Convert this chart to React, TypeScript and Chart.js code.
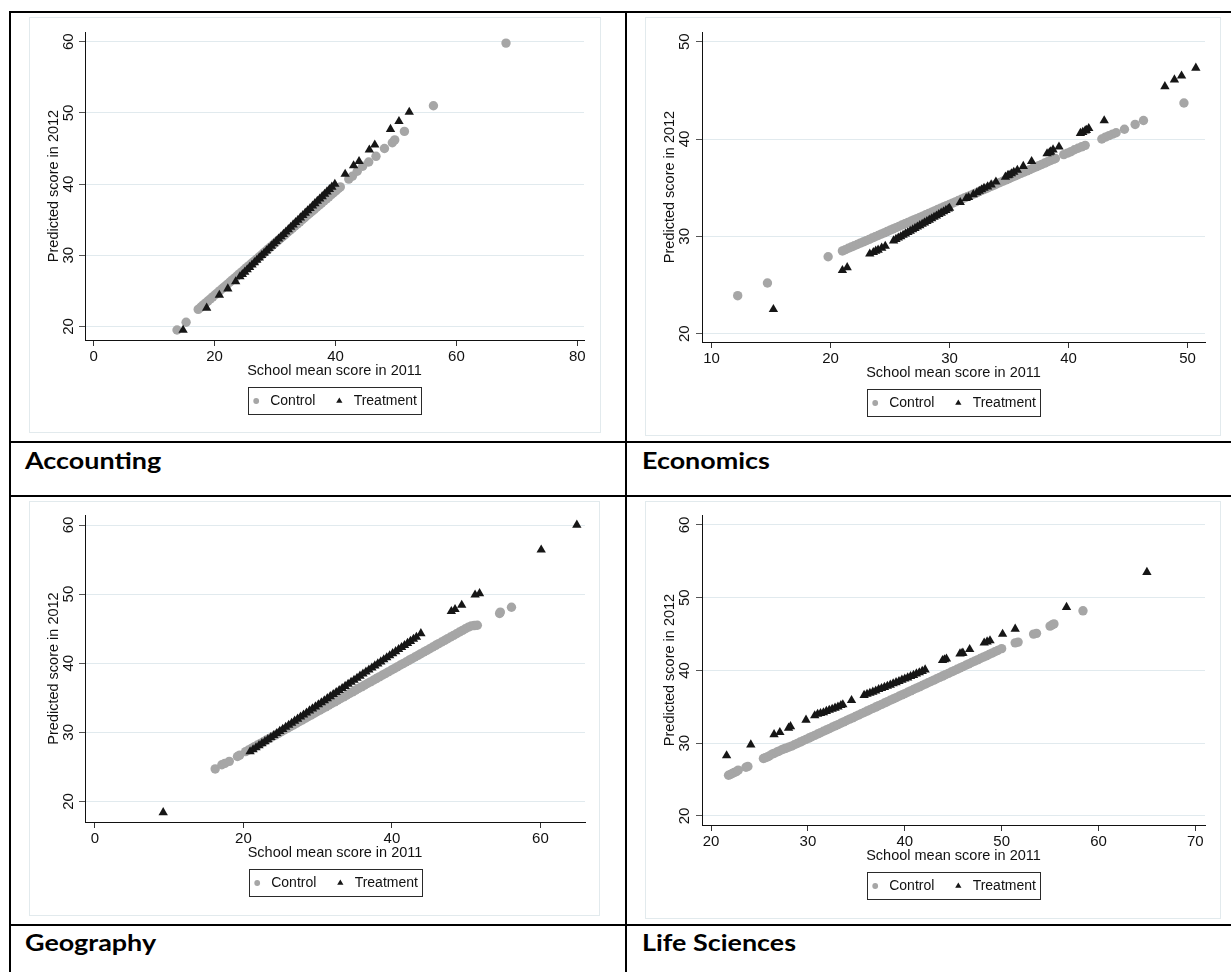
import React, { useEffect, useRef } from "react";
import { Chart, registerables } from "chart.js";

Chart.register(...registerables);

const FONT = '"Liberation Sans", Arial, Helvetica, sans-serif';
const LABEL_FONT = 'Lato, "Noto Sans", sans-serif';
const GRAY = "#a6a6a6";
const BLACK = "#161616";
const GRID = "#e1eaee";
const FRAME = "#e2eaed";

// ---------- shared texts ----------
const seriesNames = ["Control", "Treatment"];
const panelTitles = ["Accounting", "Economics", "Geography", "Life Sciences"];
const xAxisTitle = "School mean score in 2011";
const yAxisTitle = "Predicted score in 2012";

// ---------- Accounting ----------
const accountingXTicks = [0, 20, 40, 60, 80];
const accountingYTicks = [20, 30, 40, 50, 60];
const accountingControl: [number, number][] = [
  [13.8, 19.5], [15.3, 20.6],
  [17.3, 22.4], [17.7, 22.69], [18.1, 22.99], [18.5, 23.28], [18.9, 23.57], [19.3, 23.86], [19.7, 24.16],
  [20.1, 24.45], [20.5, 24.74], [20.9, 25.04], [21.3, 25.33], [21.7, 25.62], [22.1, 25.91], [22.5, 26.21],
  [22.9, 26.5], [23.3, 26.79], [23.7, 27.08], [24.1, 27.38], [24.5, 27.67], [24.9, 27.96], [25.3, 28.26],
  [25.7, 28.55], [26.1, 28.84], [26.5, 29.13], [26.9, 29.43], [27.3, 29.72], [27.7, 30.01], [28.1, 30.31],
  [28.5, 30.6], [28.9, 30.89], [29.3, 31.18], [29.7, 31.48], [30.1, 31.77], [30.5, 32.06], [30.9, 32.36],
  [31.3, 32.65], [31.7, 32.94], [32.1, 33.23], [32.5, 33.53], [32.9, 33.82], [33.3, 34.11], [33.7, 34.4],
  [34.1, 34.7], [34.5, 34.99], [34.9, 35.28], [35.3, 35.58], [35.7, 35.87], [36.1, 36.16], [36.5, 36.45],
  [36.9, 36.75], [37.3, 37.04], [37.7, 37.33], [38.1, 37.63], [38.5, 37.92], [38.9, 38.21], [39.3, 38.5],
  [39.7, 38.8], [40.1, 39.09], [40.5, 39.38], [40.8, 39.6],
  [42.2, 40.7], [42.8, 41.1], [43.6, 41.8], [44.5, 42.5], [45.5, 43.1], [46.7, 43.9], [48.1, 45.0],
  [49.4, 45.8], [49.8, 46.2], [51.4, 47.4], [56.2, 51.0], [68.2, 59.8],
];
const accountingTreatment: [number, number][] = [
  [14.8, 19.5], [18.7, 22.6], [20.8, 24.4], [22.2, 25.3], [23.5, 26.3],
  [24.2, 27.0], [24.6, 27.33], [25.0, 27.66], [25.4, 27.99], [25.8, 28.32], [26.2, 28.66], [26.6, 28.99],
  [27.0, 29.32], [27.4, 29.65], [27.8, 29.98], [28.2, 30.31], [28.6, 30.64], [29.0, 30.97], [29.4, 31.31],
  [29.8, 31.64], [30.2, 31.97], [30.6, 32.3], [31.0, 32.63], [31.4, 32.96], [31.8, 33.29], [32.2, 33.62],
  [32.6, 33.96], [33.0, 34.29], [33.4, 34.62], [33.8, 34.95], [34.2, 35.28], [34.6, 35.61], [35.0, 35.94],
  [35.4, 36.27], [35.8, 36.6], [36.2, 36.94], [36.6, 37.27], [37.0, 37.6], [37.4, 37.93], [37.8, 38.26],
  [38.2, 38.59], [38.6, 38.92], [39.0, 39.25], [39.4, 39.59], [39.9, 40.0],
  [41.6, 41.4], [43.0, 42.6], [43.9, 43.2], [45.6, 44.8], [46.5, 45.5], [49.1, 47.7], [50.5, 48.8],
  [52.2, 50.1],
];

// ---------- Economics ----------
const economicsXTicks = [10, 20, 30, 40, 50];
const economicsYTicks = [20, 30, 40, 50];
const economicsControl: [number, number][] = [
  [12.2, 23.9], [14.7, 25.2], [19.8, 27.9],
  [21.0, 28.5], [21.25, 28.63], [21.5, 28.77], [21.75, 28.9], [22.0, 29.03], [22.25, 29.16], [22.5, 29.3],
  [22.75, 29.43], [23.0, 29.56], [23.25, 29.69], [23.5, 29.83], [23.75, 29.96], [24.0, 30.09], [24.25, 30.23],
  [24.5, 30.36], [24.75, 30.49], [25.0, 30.62], [25.25, 30.76], [25.5, 30.89], [25.75, 31.02], [26.0, 31.16],
  [26.25, 31.29], [26.5, 31.42], [26.75, 31.55], [27.0, 31.69], [27.25, 31.82], [27.5, 31.95], [27.75, 32.08],
  [28.0, 32.22], [28.25, 32.35], [28.5, 32.48], [28.75, 32.62], [29.0, 32.75], [29.25, 32.88], [29.5, 33.01],
  [29.75, 33.15], [30.0, 33.28], [30.25, 33.41], [30.5, 33.54], [30.75, 33.68], [31.0, 33.81], [31.25, 33.94],
  [31.5, 34.08], [31.75, 34.21], [32.0, 34.34], [32.25, 34.47], [32.5, 34.61], [32.75, 34.74], [33.0, 34.87],
  [33.25, 35.0], [33.5, 35.14], [33.75, 35.27], [34.0, 35.4], [34.25, 35.54], [34.5, 35.67], [34.75, 35.8],
  [35.0, 35.93], [35.25, 36.07], [35.5, 36.2], [35.75, 36.33], [36.0, 36.47], [36.25, 36.6], [36.5, 36.73],
  [36.75, 36.86], [37.0, 37.0], [37.25, 37.13], [37.5, 37.26], [37.75, 37.39], [38.0, 37.53], [38.25, 37.66],
  [38.5, 37.79], [38.75, 37.92], [38.9, 38.0],
  [39.6, 38.4], [39.9, 38.55], [40.2, 38.7], [40.5, 38.9], [40.8, 39.05], [41.1, 39.2], [41.4, 39.35],
  [42.8, 40.0], [43.1, 40.2], [43.4, 40.35], [43.7, 40.5], [44.0, 40.65], [44.7, 41.0], [45.6, 41.5],
  [46.3, 41.9], [49.7, 43.7],
];
const economicsTreatment: [number, number][] = [
  [15.2, 22.5], [21.0, 26.5], [21.4, 26.8], [23.3, 28.2], [23.6, 28.35], [23.8, 28.5], [24.0, 28.6],
  [24.3, 28.8], [24.6, 29.0], [25.3, 29.55],
  [25.5, 29.7], [25.7, 29.84], [25.9, 29.98], [26.1, 30.12], [26.3, 30.27], [26.5, 30.41], [26.7, 30.55],
  [26.9, 30.69], [27.1, 30.83], [27.3, 30.98], [27.5, 31.12], [27.7, 31.26], [27.9, 31.4], [28.1, 31.54],
  [28.3, 31.68], [28.5, 31.83], [28.7, 31.97], [28.9, 32.11], [29.1, 32.26], [29.3, 32.4], [29.5, 32.54],
  [29.7, 32.68], [29.9, 32.83], [30.0, 32.9],
  [30.9, 33.5], [31.4, 33.9], [31.6, 34.0], [32.0, 34.3], [32.3, 34.5], [32.5, 34.65], [32.7, 34.8],
  [32.9, 34.95], [33.2, 35.1], [33.5, 35.3], [33.9, 35.6], [34.7, 36.1], [34.9, 36.25], [35.0, 36.3],
  [35.2, 36.45], [35.4, 36.6], [35.7, 36.8], [36.2, 37.2], [36.9, 37.7], [38.2, 38.5], [38.4, 38.6],
  [38.5, 38.7], [38.7, 38.9], [39.2, 39.2], [41.0, 40.6], [41.2, 40.7], [41.4, 40.85], [41.5, 40.9],
  [41.7, 41.1], [43.0, 41.9], [48.1, 45.4], [48.9, 46.1], [49.5, 46.5], [50.7, 47.3],
];

// ---------- Geography ----------
const geographyXTicks = [0, 20, 40, 60];
const geographyYTicks = [20, 30, 40, 50, 60];
const geographyControl: [number, number][] = [
  [16.2, 24.7], [17.1, 25.3], [17.5, 25.5], [18.1, 25.8], [19.2, 26.5], [19.5, 26.7],
  [20.3, 27.2], [20.7, 27.44], [21.1, 27.68], [21.5, 27.92], [21.9, 28.16], [22.3, 28.4], [22.7, 28.64],
  [23.1, 28.88], [23.5, 29.12], [23.9, 29.36], [24.3, 29.6], [24.7, 29.84], [25.1, 30.08], [25.5, 30.33],
  [25.9, 30.57], [26.3, 30.81], [26.7, 31.05], [27.1, 31.29], [27.5, 31.53], [27.9, 31.77], [28.3, 32.01],
  [28.7, 32.25], [29.1, 32.49], [29.5, 32.73], [29.9, 32.97], [30.3, 33.21], [30.7, 33.45], [31.1, 33.69],
  [31.5, 33.93], [31.9, 34.17], [32.3, 34.41], [32.7, 34.65], [33.1, 34.89], [33.5, 35.13], [33.9, 35.37],
  [34.3, 35.61], [34.7, 35.85], [35.1, 36.09], [35.5, 36.34], [35.9, 36.58], [36.3, 36.82], [36.7, 37.06],
  [37.1, 37.3], [37.5, 37.54], [37.9, 37.78], [38.3, 38.02], [38.7, 38.26], [39.1, 38.5], [39.5, 38.74],
  [39.9, 38.98], [40.3, 39.22], [40.7, 39.46], [41.1, 39.7], [41.5, 39.94], [41.9, 40.18], [42.3, 40.42],
  [42.7, 40.66], [43.1, 40.9], [43.5, 41.14], [43.9, 41.38], [44.3, 41.62], [44.7, 41.86], [45.1, 42.1],
  [45.5, 42.35], [45.9, 42.59], [46.3, 42.83], [46.7, 43.07], [47.1, 43.31], [47.5, 43.55], [47.9, 43.79],
  [48.3, 44.03], [48.7, 44.27], [49.1, 44.51], [49.5, 44.75], [49.9, 44.99], [50.3, 45.23], [50.7, 45.4],
  [51.1, 45.45], [51.5, 45.5],
  [54.5, 47.2], [54.6, 47.4], [56.1, 48.1],
];
const geographyTreatment: [number, number][] = [
  [9.2, 18.4],
  [20.9, 27.2], [21.3, 27.5], [21.7, 27.79], [22.1, 28.09], [22.5, 28.38], [22.9, 28.68], [23.3, 28.97],
  [23.7, 29.27], [24.1, 29.57], [24.5, 29.86], [24.9, 30.16], [25.3, 30.45], [25.7, 30.75], [26.1, 31.05],
  [26.5, 31.34], [26.9, 31.64], [27.3, 31.93], [27.7, 32.23], [28.1, 32.53], [28.5, 32.82], [28.9, 33.12],
  [29.3, 33.41], [29.7, 33.71], [30.1, 34.01], [30.5, 34.3], [30.9, 34.6], [31.3, 34.89], [31.7, 35.19],
  [32.1, 35.49], [32.5, 35.78], [32.9, 36.08], [33.3, 36.37], [33.7, 36.67], [34.1, 36.97], [34.5, 37.26],
  [34.9, 37.56], [35.3, 37.85], [35.7, 38.15], [36.1, 38.45], [36.5, 38.74], [36.9, 39.04], [37.3, 39.33],
  [37.7, 39.63], [38.1, 39.93], [38.5, 40.22], [38.9, 40.52], [39.3, 40.81], [39.7, 41.11], [40.1, 41.41],
  [40.5, 41.7], [40.9, 42.0], [41.3, 42.29], [41.7, 42.59], [42.1, 42.89], [42.5, 43.18], [42.9, 43.48],
  [43.3, 43.77], [43.9, 44.3],
  [48.0, 47.5], [48.5, 47.8], [49.4, 48.4], [51.2, 49.9], [51.8, 50.1], [60.1, 56.4], [64.9, 60.0],
];

// ---------- Life Sciences ----------
const lifeXTicks = [20, 30, 40, 50, 60, 70];
const lifeYTicks = [20, 30, 40, 50, 60];
const lifeControl: [number, number][] = [
  [21.8, 25.6], [22.0, 25.7], [22.2, 25.85], [22.4, 26.0], [22.6, 26.1], [22.8, 26.3], [23.6, 26.7],
  [23.8, 26.8], [25.4, 27.9], [25.6, 28.0], [25.8, 28.1], [26.0, 28.25], [26.3, 28.5], [26.5, 28.6],
  [26.8, 28.8], [27.0, 28.9], [27.3, 29.1], [27.5, 29.2], [27.7, 29.3], [28.0, 29.45],
  [28.3, 29.6], [28.6, 29.79], [28.9, 29.97], [29.2, 30.16], [29.5, 30.34], [29.8, 30.53], [30.1, 30.71],
  [30.4, 30.9], [30.7, 31.08], [31.0, 31.27], [31.3, 31.45], [31.6, 31.64], [31.9, 31.82], [32.2, 32.01],
  [32.5, 32.19], [32.8, 32.38], [33.1, 32.56], [33.4, 32.75], [33.7, 32.93], [34.0, 33.12], [34.3, 33.31],
  [34.6, 33.49], [34.9, 33.68], [35.2, 33.86], [35.5, 34.05], [35.8, 34.23], [36.1, 34.42], [36.4, 34.6],
  [36.7, 34.79], [37.0, 34.97], [37.3, 35.16], [37.6, 35.34], [37.9, 35.53], [38.2, 35.71], [38.5, 35.9],
  [38.8, 36.08], [39.1, 36.27], [39.4, 36.45], [39.7, 36.64], [40.0, 36.82], [40.3, 37.01], [40.6, 37.2],
  [40.9, 37.38], [41.2, 37.57], [41.5, 37.75], [41.8, 37.94], [42.1, 38.12], [42.4, 38.31], [42.7, 38.49],
  [43.0, 38.68], [43.3, 38.86], [43.6, 39.05], [43.9, 39.23], [44.2, 39.42], [44.5, 39.6], [44.8, 39.79],
  [45.1, 39.97], [45.4, 40.16], [45.7, 40.34], [46.0, 40.53], [46.3, 40.72], [46.6, 40.9], [46.9, 41.09],
  [47.2, 41.27], [47.5, 41.46], [47.8, 41.64], [48.1, 41.83], [48.4, 42.01], [48.7, 42.2], [49.0, 42.38],
  [49.3, 42.57], [49.6, 42.75], [50.0, 43.0],
  [51.4, 43.8], [51.7, 43.9], [53.3, 45.0], [53.6, 45.1], [55.0, 46.1], [55.2, 46.25], [55.4, 46.4],
  [58.4, 48.2],
];
const lifeTreatment: [number, number][] = [
  [21.6, 28.3], [24.1, 29.8], [26.5, 31.2], [27.1, 31.5], [28.0, 32.1], [28.2, 32.3], [29.8, 33.2],
  [30.7, 33.8], [31.0, 34.0], [31.3, 34.1], [31.6, 34.2], [31.9, 34.4], [32.2, 34.55], [32.5, 34.7],
  [32.8, 34.85], [33.1, 35.0], [33.4, 35.2], [33.6, 35.3], [34.5, 35.9], [35.8, 36.6], [36.1, 36.75],
  [36.4, 36.9], [36.7, 37.05], [37.0, 37.2], [37.3, 37.4], [37.6, 37.55], [37.9, 37.7], [38.2, 37.85],
  [38.5, 38.0], [38.8, 38.2], [39.1, 38.35], [39.4, 38.5], [39.7, 38.7], [40.0, 38.85], [40.3, 39.0],
  [40.6, 39.2], [40.9, 39.35], [41.2, 39.55], [41.5, 39.7], [41.8, 39.9], [42.1, 40.1],
  [43.9, 41.4], [44.1, 41.5], [44.3, 41.6], [45.7, 42.3], [45.9, 42.35], [46.0, 42.4], [46.7, 42.9],
  [48.2, 43.8], [48.5, 43.95], [48.8, 44.1], [50.1, 45.0], [51.4, 45.7], [56.7, 48.7], [65.0, 53.5],
];

type Pt = [number, number];
interface PanelProps {
  control: Pt[];
  treatment: Pt[];
  xTicks: number[];
  yTicks: number[];
  xRange: [number, number];
  yRange: [number, number];
  frame: { left: number; top: number; width: number; height: number };
  area: { l: number; t: number; r: number; b: number };
}

const XH = 39.7; // x scale box height (ticks + title)

const legendBoxPlugin = {
  id: "legendBox",
  afterDraw(chart: any) {
    const { ctx, chartArea } = chart;
    const labels = chart.data.datasets.map((d: any) => d.label as string);
    ctx.save();
    ctx.font = `14px ${FONT}`;
    const wC = ctx.measureText(labels[0]).width;
    const wT = ctx.measureText(labels[1]).width;
    const w = Math.round(7.7 + 14 + wC + 24 + 14.3 + wT + 4.5);
    const cx = (chartArea.left + chartArea.right) / 2;
    const x0 = Math.round(cx - w / 2) + 0.5;
    const y0 = Math.round(chartArea.bottom + 47) + 0.5;
    ctx.strokeStyle = "#2a2a2a";
    ctx.lineWidth = 1;
    ctx.strokeRect(x0, y0, w, 27);
    const cy = y0 + 13.5;
    ctx.fillStyle = GRAY;
    ctx.beginPath();
    ctx.arc(x0 + 7.7, cy, 2.9, 0, Math.PI * 2);
    ctx.fill();
    ctx.fillStyle = "#111";
    ctx.textBaseline = "middle";
    ctx.textAlign = "left";
    ctx.fillText(labels[0], x0 + 21.7, cy);
    const tx = x0 + 21.7 + wC + 24;
    const r = 3.6;
    ctx.fillStyle = BLACK;
    ctx.beginPath();
    ctx.moveTo(tx, cy - r);
    ctx.lineTo(tx + r * 0.866, cy + r * 0.5);
    ctx.lineTo(tx - r * 0.866, cy + r * 0.5);
    ctx.closePath();
    ctx.fill();
    ctx.fillStyle = "#111";
    ctx.fillText(labels[1], tx + 14.3, cy);
    ctx.restore();
  },
};

function Panel(p: PanelProps) {
  const ref = useRef<HTMLCanvasElement | null>(null);
  useEffect(() => {
    if (!ref.current) return;
    const W = p.frame.width;
    const H = p.frame.height;
    const { l, t, r, b } = p.area;
    const chart = new Chart(ref.current, {
      type: "scatter",
      data: {
        datasets: [
          {
            label: seriesNames[0],
            data: p.control.map(([x, y]) => ({ x, y })),
            pointStyle: "circle",
            pointRadius: 4.7,
            pointBackgroundColor: GRAY,
            pointBorderWidth: 0,
            backgroundColor: GRAY,
            borderWidth: 0,
            order: 2,
          },
          {
            label: seriesNames[1],
            data: p.treatment.map(([x, y]) => ({ x, y })),
            pointStyle: "triangle",
            pointRadius: 5.4,
            pointBackgroundColor: BLACK,
            pointBorderWidth: 0,
            backgroundColor: BLACK,
            borderWidth: 0,
            order: 1,
          },
        ],
      },
      options: {
        animation: false,
        responsive: false,
        events: [],
        layout: { padding: { left: 0, top: t, right: W - r, bottom: H - b - XH } },
        plugins: { legend: { display: false }, tooltip: { enabled: false } },
        scales: {
          x: {
            type: "linear",
            position: "bottom",
            min: p.xRange[0],
            max: p.xRange[1],
            afterBuildTicks: (s: any) => {
              s.ticks = p.xTicks.map((v) => ({ value: v }));
            },
            afterFit: (s: any) => {
              s.height = XH;
              s.paddingLeft = 0;
              s.paddingRight = 0;
            },
            grid: { drawOnChartArea: false, drawTicks: true, tickLength: 6, color: "#333", tickColor: "#333" },
            border: { display: true, color: "#111", width: 1 },
            ticks: {
              font: { family: FONT, size: 15 },
              color: "#111",
              padding: 2,
              minRotation: 0,
              maxRotation: 0,
              autoSkip: false,
            },
            title: {
              display: true,
              text: xAxisTitle,
              font: { family: FONT, size: 14.5 },
              color: "#111",
              padding: { top: 0, bottom: 0 },
            },
          },
          y: {
            type: "linear",
            position: "left",
            min: p.yRange[0],
            max: p.yRange[1],
            afterBuildTicks: (s: any) => {
              s.ticks = p.yTicks.map((v) => ({ value: v }));
            },
            afterFit: (s: any) => {
              s.width = l;
              s.paddingTop = 0;
              s.paddingBottom = 0;
            },
            grid: { drawOnChartArea: true, drawTicks: true, tickLength: 6, color: GRID, tickColor: "#555" },
            border: { display: true, color: "#111", width: 1 },
            ticks: {
              font: { family: FONT, size: 15 },
              color: "#111",
              padding: l - 6 - 8.35 - 39.5,
              minRotation: 90,
              maxRotation: 90,
              crossAlign: "center",
              autoSkip: false,
            },
            title: {
              display: true,
              text: yAxisTitle,
              font: { family: FONT, size: 14.5 },
              color: "#111",
              padding: { top: 16.3, bottom: 0 },
            },
          },
        },
      },
      plugins: [legendBoxPlugin],
    } as any);
    return () => chart.destroy();
  }, []);
  return (
    <>
      <canvas
        ref={ref}
        width={p.frame.width}
        height={p.frame.height}
        style={{
          position: "absolute",
          left: p.frame.left,
          top: p.frame.top,
          width: p.frame.width,
          height: p.frame.height,
        }}
      />
      <div
        style={{
          position: "absolute",
          left: p.frame.left,
          top: p.frame.top,
          width: p.frame.width,
          height: p.frame.height,
          border: `1px solid ${FRAME}`,
          boxSizing: "border-box",
          pointerEvents: "none",
        }}
      />
    </>
  );
}

const lineStyle = (left: number, top: number, width: number, height: number): React.CSSProperties => ({
  position: "absolute",
  left,
  top,
  width,
  height,
  background: "#000",
});

const labelStyle = (left: number, baseline: number): React.CSSProperties => ({
  position: "absolute",
  left,
  top: baseline - 20.4,
  fontFamily: LABEL_FONT,
  fontWeight: 700,
  fontSize: 23,
  lineHeight: "23px",
  color: "#000",
  whiteSpace: "nowrap",
  transform: "scaleX(1.17)",
  transformOrigin: "0 0",
});

export default function App() {
  return (
    <div
      style={{
        position: "absolute",
        left: 0,
        top: 0,
        width: 1231,
        height: 972,
        background: "#fff",
        overflow: "hidden",
      }}
    >
      <Panel
        control={accountingControl}
        treatment={accountingTreatment}
        xTicks={accountingXTicks}
        yTicks={accountingYTicks}
        xRange={[-1.42, 81.1]}
        yRange={[18.1, 61.36]}
        frame={{ left: 29, top: 17, width: 572, height: 416 }}
        area={{ l: 56, t: 15, r: 555, b: 323 }}
      />
      <Panel
        control={economicsControl}
        treatment={economicsTreatment}
        xTicks={economicsXTicks}
        yTicks={economicsYTicks}
        xRange={[9.2, 51.47]}
        yRange={[19.14, 51.0]}
        frame={{ left: 645, top: 17, width: 576, height: 419 }}
        area={{ l: 57, t: 15, r: 560, b: 325 }}
      />
      <Panel
        control={geographyControl}
        treatment={geographyTreatment}
        xTicks={geographyXTicks}
        yTicks={geographyYTicks}
        xRange={[-1.33, 66.0]}
        yRange={[17.02, 61.45]}
        frame={{ left: 29, top: 501, width: 571, height: 415 }}
        area={{ l: 56, t: 14, r: 556, b: 321 }}
      />
      <Panel
        control={lifeControl}
        treatment={lifeTreatment}
        xTicks={lifeXTicks}
        yTicks={lifeYTicks}
        xRange={[19.06, 71.0]}
        yRange={[18.76, 61.37]}
        frame={{ left: 645, top: 501, width: 576, height: 418 }}
        area={{ l: 57, t: 14, r: 560, b: 324 }}
      />

      {/* table rules */}
      <div style={lineStyle(9, 11, 1222, 2)} />
      <div style={lineStyle(9, 11, 2, 961)} />
      <div style={lineStyle(625, 11, 2, 961)} />
      <div style={lineStyle(9, 441, 1222, 2)} />
      <div style={lineStyle(9, 495, 1222, 2)} />
      <div style={lineStyle(9, 924, 1222, 2)} />

      <div style={labelStyle(25, 469)}>{panelTitles[0]}</div>
      <div style={labelStyle(641.5, 469)}>{panelTitles[1]}</div>
      <div style={labelStyle(25, 951.5)}>{panelTitles[2]}</div>
      <div style={labelStyle(641.5, 951.5)}>{panelTitles[3]}</div>
    </div>
  );
}
